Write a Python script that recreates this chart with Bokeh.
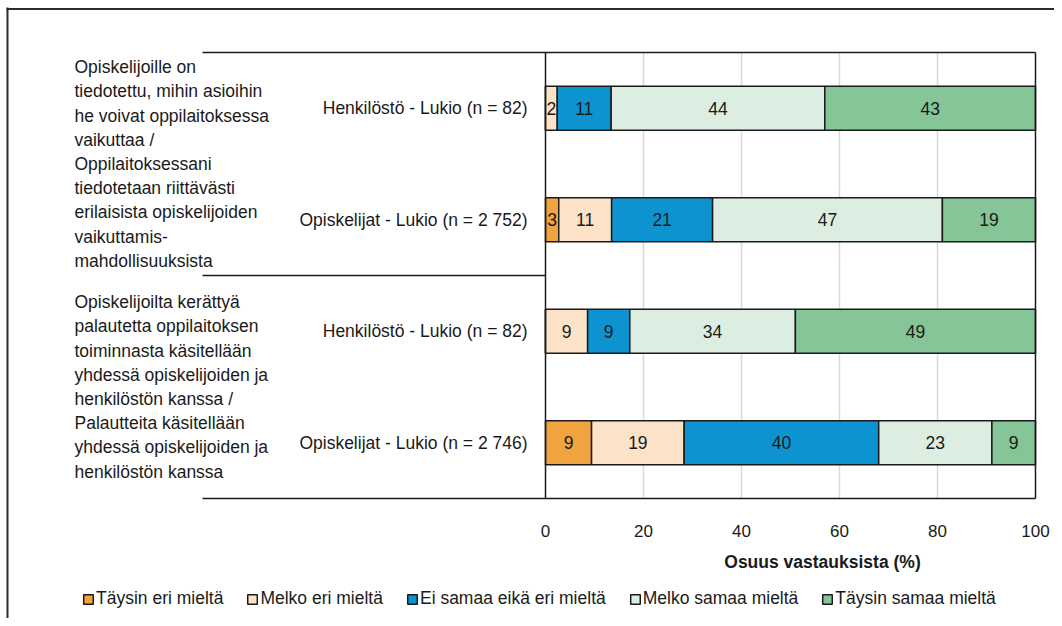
from bokeh.plotting import figure
from bokeh.models import Range1d, FixedTicker, ColumnDataSource, Legend, LegendItem
from bokeh.core.properties import value
from bokeh.embed import file_html
from bokeh.resources import INLINE

FONT = "Liberation Sans"
FS = "17.5px"
INK = "#1a1a1a"

series = ["Täysin eri mieltä", "Melko eri mieltä", "Ei samaa eikä eri mieltä",
          "Melko samaa mieltä", "Täysin samaa mieltä"]
colors = ["#F0A33F", "#FCE3C8", "#0E93D1", "#DCEEE1", "#85C597"]

rows = ["Henkilöstö - Lukio (n = 82)", "Opiskelijat - Lukio (n = 2 752)",
        "Henkilöstö - Lukio (n = 82)", "Opiskelijat - Lukio (n = 2 746)"]
groups = [
    "Opiskelijoille on\ntiedotettu, mihin asioihin\nhe voivat oppilaitoksessa\nvaikuttaa /\n"
    "Oppilaitoksessani\ntiedotetaan riittävästi\nerilaisista opiskelijoiden\nvaikuttamis-\nmahdollisuuksista",
    "Opiskelijoilta kerättyä\npalautetta oppilaitoksen\ntoiminnasta käsitellään\nyhdessä opiskelijoiden ja\n"
    "henkilöstön kanssa /\nPalautteita käsitellään\nyhdessä opiskelijoiden ja\nhenkilöstön kanssa",
]

taysin_eri = [0.0, 2.7, 0.0, 9.4]
melko_eri = [2.4, 10.8, 8.6, 18.9]
ei_samaa = [11.0, 20.6, 8.6, 39.7]
melko_samaa = [43.6, 46.9, 33.8, 23.1]
taysin_samaa = [43.0, 19.0, 49.0, 8.9]
values = [taysin_eri, melko_eri, ei_samaa, melko_samaa, taysin_samaa]

x_ticks = [0, 20, 40, 60, 80, 100]
x_title = "Osuus vastauksista (%)"

# ---- geometry (canvas pixels) ----
W, H = 1054, 618
PX_X = 4.9            # px per % unit
SLOT = 111.5          # px per row
X0 = 545              # canvas x of 0 %
Y0 = 498              # canvas y of the plot-area bottom


def dx(px):
    return (px - X0) / PX_X


def dy(py):
    return (Y0 - py) / SLOT


n = len(rows)
row_y = [n - 0.5 - i for i in range(n)]

p = figure(width=W, height=H, output_backend="svg", toolbar_location=None,
           x_range=Range1d(dx(0), dx(W)), y_range=Range1d(dy(H), dy(0)),
           y_axis_location=None, x_axis_location="below",
           min_border_left=0, min_border_right=0, min_border_top=0, min_border_bottom=0)
p.outline_line_color = None
p.xgrid.visible = False
p.ygrid.visible = False
p.background_fill_color = "white"
p.border_fill_color = "white"

# outer chart border (left and top edges)
p.segment(x0=[dx(7), dx(6)], x1=[dx(7), dx(W)], y0=[dy(H), dy(8.5)], y1=[dy(7), dy(8.5)],
          line_color="#2b2b2b", line_width=2)

# gridlines
gx = [t for t in x_ticks if 0 < t < 100]
p.segment(x0=gx, x1=gx, y0=[0] * len(gx), y1=[n] * len(gx), line_color="#D9D9D9", line_width=1.5)

# bars
renderers = []
left = [0.0] * n
label_x, label_y, label_t = [], [], []
for s, c, vals in zip(series, colors, values):
    right = [l + v for l, v in zip(left, vals)]
    src = ColumnDataSource(dict(y=row_y, left=left, right=right))
    r = p.hbar(y="y", left="left", right="right", height=0.395, source=src,
               fill_color=c, line_color=INK, line_width=1.5)
    renderers.append(r)
    for i, v in enumerate(vals):
        if v > 0:
            label_x.append((left[i] + right[i]) / 2)
            label_y.append(row_y[i])
            label_t.append(f"{v:.0f}")
    left = right

p.text(x=label_x, y=label_y, text=label_t, text_align="center", text_baseline="middle",
       text_font=value(FONT), text_font_size=FS, text_color=INK)

# plot-area box and group separators
sep_left = dx(202)
p.segment(x0=[sep_left, 100, 0, sep_left, sep_left], x1=[100, 100, 0, 100, 0],
          y0=[n, 0, 0, 0, n / 2], y1=[n, n, n, 0, n / 2],
          line_color=INK, line_width=1.5)

# row labels
p.text(x=[0] * n, y=row_y, text=rows, x_offset=-18, text_align="right", text_baseline="middle",
       text_font=value(FONT), text_font_size=FS, text_color=INK)

# group labels
group_y = [n - 1 - 2 * i for i in range(len(groups))]
p.text(x=[dx(74)] * len(groups), y=group_y, text=groups,
       text_align="left", text_baseline="middle", text_line_height=1.21,
       text_font=value(FONT), text_font_size=FS, text_color=INK)

# x axis drawn at the bottom of the plot area
ax = p.xaxis[0]
ax.fixed_location = 0
ax.ticker = FixedTicker(ticks=x_ticks)
ax.axis_line_color = None
ax.major_tick_line_color = None
ax.minor_tick_line_color = None
ax.major_label_standoff = 20
ax.major_label_text_font = FONT
ax.major_label_text_font_size = "17px"
ax.major_label_text_color = INK

# axis title
p.text(x=[dx(822)], y=[dy(561)], text=[x_title], text_align="center", text_baseline="middle",
       text_font=value(FONT), text_font_size=FS, text_font_style="bold", text_color=INK)

legend = Legend(items=[LegendItem(label=s, renderers=[r]) for s, r in zip(series, renderers)],
                orientation="horizontal", location=(82, H - 609),
                glyph_width=12, glyph_height=12, label_standoff=2, spacing=23,
                padding=0, margin=0, border_line_color=None, background_fill_alpha=0,
                label_text_font=FONT, label_text_font_size=FS, label_text_color=INK)
p.add_layout(legend, "center")

open("out.html", "w").write(file_html(p, INLINE))
